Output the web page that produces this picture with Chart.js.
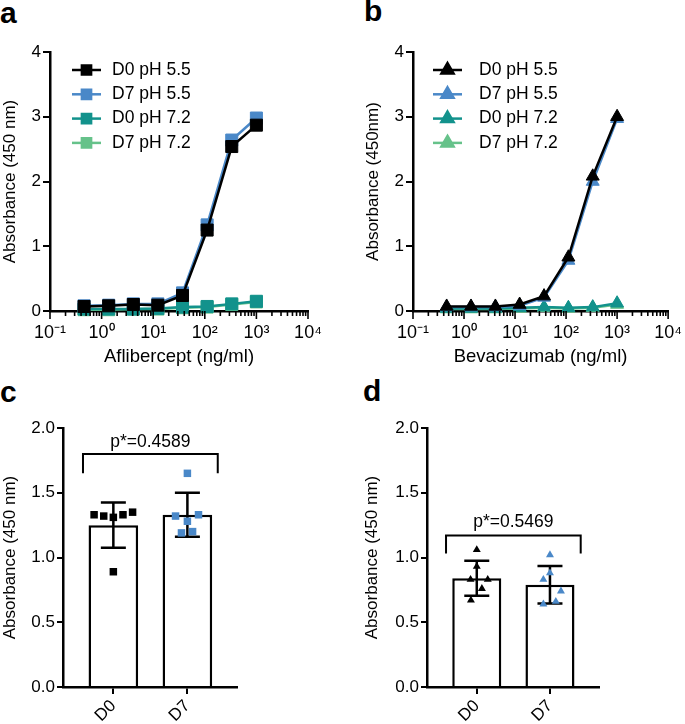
<!DOCTYPE html>
<html>
<head>
<meta charset="utf-8">
<script src="https://cdn.jsdelivr.net/npm/chart.js@4.4.1/dist/chart.umd.min.js"></script>
<style>
  body { margin: 0; background: #fff; }
  #fig { position: relative; width: 685px; height: 724px; font-family: "Liberation Sans", Arial, sans-serif; color: #000; }
  .panel { position: absolute; }
  .letter { position: absolute; font-weight: bold; font-size: 30px; line-height: 1; }
</style>
</head>
<body>
<div id="fig">
  <div class="letter" style="left:0px;top:-2px">a</div>
  <div class="letter" style="left:364px;top:-4px">b</div>
  <div class="letter" style="left:0px;top:377px">c</div>
  <div class="letter" style="left:363px;top:376px">d</div>

  <div class="panel" style="left:0px;top:30px"><canvas id="chartA" width="340" height="342"></canvas></div>
  <div class="panel" style="left:345px;top:30px"><canvas id="chartB" width="340" height="342"></canvas></div>
  <div class="panel" style="left:0px;top:375px"><canvas id="chartC" width="340" height="349"></canvas></div>
  <div class="panel" style="left:345px;top:375px"><canvas id="chartD" width="340" height="349"></canvas></div>
</div>

<script>
// ---- data (panels a, b) ----
const concentrations = [0.457, 1.37, 4.12, 12.3, 37, 111, 333, 1000];
const seriesNames = ["D0 pH 5.5", "D7 pH 5.5", "D0 pH 7.2", "D7 pH 7.2"];
const decadeLabels = ["10⁻¹", "10⁰", "10¹", "10²", "10³", "10⁴"];

const afliD0pH55 = [0.07, 0.08, 0.10, 0.09, 0.24, 1.25, 2.54, 2.87];
const afliD7pH55 = [0.08, 0.09, 0.11, 0.11, 0.28, 1.33, 2.64, 2.98];
const afliD0pH72 = [0.03, 0.03, 0.03, 0.04, 0.06, 0.07, 0.11, 0.15];
const afliD7pH72 = [0.02, 0.02, 0.03, 0.03, 0.05, 0.06, 0.10, 0.14];

const bevaD0pH55 = [0.07, 0.07, 0.07, 0.10, 0.23, 0.83, 2.08, 3.00];
const bevaD7pH55 = [0.06, 0.06, 0.06, 0.08, 0.21, 0.78, 2.00, 2.97];
const bevaD0pH72 = [0.04, 0.04, 0.04, 0.05, 0.06, 0.05, 0.06, 0.12];
const bevaD7pH72 = [0.03, 0.03, 0.03, 0.04, 0.05, 0.04, 0.05, 0.10];

// ---- data (panels c, d) ----
const groups = ["D0", "D7"];

const afliMeans = [1.25, 1.33];
const afliSD = [0.175, 0.17];
const afliD0Points = [1.33, 1.32, 1.31, 1.33, 1.35, 0.89];
const afliD7Points = [1.65, 1.32, 1.28, 1.33, 1.19, 1.20];
const afliD0Jitter = [-0.26, -0.13, 0, 0.13, 0.26, 0];
const afliD7Jitter = [0, -0.16, 0, 0.15, -0.08, 0.07];
const afliPValue = "p*=0.4589";

const bevaMeans = [0.84, 0.79];
const bevaSD = [0.135, 0.145];
const bevaD0Points = [1.06, 0.93, 0.83, 0.83, 0.76, 0.67];
const bevaD7Points = [1.02, 0.88, 0.83, 0.74, 0.64, 0.66];
const bevaD0Jitter = [0, 0, -0.085, 0.15, 0.07, -0.08];
const bevaD7Jitter = [0, 0, -0.09, 0.15, -0.09, 0.08];
const bevaPValue = "p*=0.5469";

// ---- styles ----
const seriesColors = ["#000000", "#4a88c8", "#12928c", "#66c28a"];
const FONT = "'Liberation Sans', Arial, sans-serif";
Chart.defaults.font.family = FONT;
Chart.defaults.font.size = 17;
Chart.defaults.color = "#000";

function isDecade(v) {
  const e = Math.log10(v);
  return Math.abs(e - Math.round(e)) < 1e-6;
}

// log axis: major ticks longer than minor ones
const logTickMarks = {
  id: "logTickMarks",
  afterDraw(chart) {
    const x = chart.scales.x;
    const ctx = chart.ctx;
    ctx.save();
    ctx.strokeStyle = "#000";
    ctx.lineWidth = 1.6;
    x.ticks.forEach((t) => {
      const px = x.getPixelForValue(t.value);
      const len = isDecade(t.value) ? 8 : 5;
      ctx.beginPath();
      ctx.moveTo(px, x.top);
      ctx.lineTo(px, x.top + len);
      ctx.stroke();
    });
    ctx.restore();
  },
};

// legend with a line sample and marker
const lineLegend = {
  id: "lineLegend",
  afterDraw(chart, args, opts) {
    const { ctx, chartArea } = chart;
    ctx.save();
    chart.data.datasets.forEach((ds, i) => {
      const yy = chartArea.top + 18 + i * 24.3;
      const x0 = chartArea.left + opts.lineStart;
      ctx.strokeStyle = ds.borderColor;
      ctx.fillStyle = ds.borderColor;
      ctx.lineWidth = 2.5;
      ctx.beginPath();
      ctx.moveTo(x0, yy);
      ctx.lineTo(x0 + 29, yy);
      ctx.stroke();
      Chart.helpers.drawPoint(ctx, { pointStyle: ds.pointStyle, radius: opts.radius, rotation: 0, borderWidth: 1 }, x0 + 14.5, yy);
      ctx.fillStyle = "#000";
      ctx.font = "17.5px " + FONT;
      ctx.textBaseline = "middle";
      ctx.fillText(ds.label, chartArea.left + opts.textStart, yy);
    });
    ctx.restore();
  },
};

function makeCurveChart(id, values, cfg) {
  const datasets = values.map((vals, i) => ({
    label: seriesNames[i],
    data: concentrations.map((c, j) => ({ x: c, y: vals[j] })),
    borderColor: seriesColors[i],
    backgroundColor: seriesColors[i],
    borderWidth: 2.5,
    pointStyle: cfg.pointStyle,
    pointRadius: cfg.radius,
    pointBorderWidth: 1,
    clip: false,
    tension: 0,
  }));

  new Chart(document.getElementById(id), {
    type: "line",
    data: { datasets },
    options: {
      responsive: false,
      animation: false,
      events: [],
      layout: { padding: cfg.padding },
      plugins: {
        legend: { display: false },
        tooltip: { enabled: false },
        lineLegend: cfg.legend,
      },
      scales: {
        x: {
          type: "logarithmic",
          min: 0.1,
          max: 10000,
          afterBuildTicks: (s) => {
            s.ticks = s.ticks.filter((t) => {
              const m = t.value / Math.pow(10, Math.floor(Math.log10(t.value) + 1e-9));
              return Math.abs(m - Math.round(m)) < 1e-6;
            });
          },
          afterFit: (s) => { s.height = 61; },
          ticks: {
            autoSkip: false,
            maxRotation: 0,
            padding: 3,
            font: { size: 18 },
            callback: (v) => (isDecade(v) ? decadeLabels[Math.round(Math.log10(v)) + 1] : ""),
          },
          grid: { display: false, drawTicks: true, tickLength: 8 },
          border: { display: true, color: "#000", width: 2.5 },
          title: { display: true, text: cfg.xTitle, font: { size: 18.5 }, padding: { top: 0, bottom: 4 } },
        },
        y: {
          min: 0,
          max: 4,
          ticks: { stepSize: 1, padding: 2 },
          afterFit: (s) => { s.width = 50; },
          grid: { drawOnChartArea: false, color: "#000", lineWidth: 2, tickLength: 7 },
          border: { color: "#000", width: 2.5 },
          title: { display: true, text: cfg.yTitle, padding: 0 },
        },
      },
    },
    plugins: [logTickMarks, lineLegend],
  });
}

// error bars drawn after the bars, before the points
const errorBars = {
  id: "errorBars",
  afterDatasetDraw(chart, args, opts) {
    if (args.index !== 0) return;
    const { ctx } = chart;
    const x = chart.scales.x, y = chart.scales.y;
    ctx.save();
    ctx.strokeStyle = "#000";
    ctx.lineWidth = 2.5;
    opts.means.forEach((m, i) => {
      const px = x.getPixelForValue(i);
      const top = y.getPixelForValue(m + opts.sd[i]);
      const bot = y.getPixelForValue(m - opts.sd[i]);
      ctx.beginPath();
      ctx.moveTo(px, top); ctx.lineTo(px, bot);
      ctx.moveTo(px - 12.5, top); ctx.lineTo(px + 12.5, top);
      ctx.moveTo(px - 12.5, bot); ctx.lineTo(px + 12.5, bot);
      ctx.stroke();
    });
    ctx.restore();
  },
};

// significance bracket and p value
const bracket = {
  id: "bracket",
  afterDraw(chart, args, opts) {
    const { ctx } = chart;
    const x = chart.scales.x, y = chart.scales.y;
    const x0 = x.getPixelForValue(opts.from);
    const x1 = x.getPixelForValue(opts.to);
    const yTop = y.getPixelForValue(opts.y);
    const yLeg = y.getPixelForValue(opts.y - opts.drop);
    ctx.save();
    ctx.strokeStyle = "#000";
    ctx.lineWidth = 2;
    ctx.beginPath();
    ctx.moveTo(x0, yLeg);
    ctx.lineTo(x0, yTop);
    ctx.lineTo(x1, yTop);
    ctx.lineTo(x1, yLeg);
    ctx.stroke();
    ctx.fillStyle = "#000";
    ctx.font = "17.5px " + FONT;
    ctx.textAlign = "center";
    ctx.textBaseline = "middle";
    ctx.fillText(opts.label, (x0 + x1) / 2, y.getPixelForValue(opts.textY));
    ctx.restore();
  },
};

function makeBarChart(id, cfg) {
  const d0 = cfg.d0Points.map((v, i) => ({ x: 0 + cfg.d0Jitter[i], y: v }));
  const d7 = cfg.d7Points.map((v, i) => ({ x: 1 + cfg.d7Jitter[i], y: v }));

  new Chart(document.getElementById(id), {
    type: "bar",
    data: {
      datasets: [
        {
          type: "bar",
          data: cfg.means.map((m, i) => ({ x: i, y: m })),
          backgroundColor: "#fff",
          borderColor: "#000",
          borderWidth: 2.5,
          categoryPercentage: 1,
          barPercentage: 0.67,
          order: 2,
        },
        {
          type: "scatter",
          data: d0.concat(d7),
          pointStyle: cfg.pointStyle,
          pointRadius: cfg.radius,
          pointBorderWidth: 0,
          backgroundColor: d0.map(() => "#000").concat(d7.map(() => "#4a88c8")),
          clip: false,
          order: 1,
        },
      ],
    },
    options: {
      responsive: false,
      animation: false,
      events: [],
      layout: { padding: cfg.padding },
      plugins: {
        legend: { display: false },
        tooltip: { enabled: false },
        errorBars: { means: cfg.means, sd: cfg.sd },
        bracket: cfg.bracket,
      },
      scales: {
        x: {
          type: "linear",
          offset: false,
          min: -0.68,
          max: 1.67,
          afterBuildTicks: (s) => { s.ticks = groups.map((g, i) => ({ value: i })); },
          afterFit: (s) => { s.height = 37; },
          ticks: {
            autoSkip: false,
            minRotation: 45,
            maxRotation: 45,
            padding: 2,
            callback: (v) => groups[v],
          },
          grid: { offset: false, drawOnChartArea: false, color: "#000", lineWidth: 2, tickLength: 7 },
          border: { color: "#000", width: 2.5 },
        },
        y: {
          min: 0,
          max: 2,
          ticks: { stepSize: 0.5, padding: 2, callback: (v) => v.toFixed(1) },
          afterFit: (s) => { s.width = cfg.yWidth; },
          grid: { drawOnChartArea: false, color: "#000", lineWidth: 2, tickLength: 6 },
          border: { color: "#000", width: 2.5 },
          title: { display: true, text: "Absorbance (450 nm)", padding: 0 },
        },
      },
    },
    plugins: [errorBars, bracket],
  });
}

makeCurveChart("chartA", [afliD0pH55, afliD7pH55, afliD0pH72, afliD7pH72], {
  pointStyle: "rect",
  radius: 8.5,
  padding: { left: 0, top: 22, right: 32, bottom: 0 },
  xTitle: "Aflibercept (ng/ml)",
  yTitle: "Absorbance (450 nm)",
  legend: { lineStart: 22, textStart: 62, radius: 6.5 },
});

makeCurveChart("chartB", [bevaD0pH55, bevaD7pH55, bevaD0pH72, bevaD7pH72], {
  pointStyle: "triangle",
  radius: 7.5,
  padding: { left: 18, top: 22, right: 13, bottom: 0 },
  xTitle: "Bevacizumab (ng/ml)",
  yTitle: "Absorbance (450nm)",
  legend: { lineStart: 20, textStart: 66, radius: 7 },
});

makeBarChart("chartC", {
  means: afliMeans, sd: afliSD,
  d0Points: afliD0Points, d7Points: afliD7Points,
  d0Jitter: afliD0Jitter, d7Jitter: afliD7Jitter,
  pointStyle: "rect", radius: 5.3,
  yWidth: 63,
  padding: { left: 0, top: 53, right: 103, bottom: 0 },
  bracket: { from: -0.41, to: 1.41, y: 1.80, drop: 0.15, textY: 1.89, label: afliPValue },
});

makeBarChart("chartD", {
  means: bevaMeans, sd: bevaSD,
  d0Points: bevaD0Points, d7Points: bevaD7Points,
  d0Jitter: bevaD0Jitter, d7Jitter: bevaD7Jitter,
  pointStyle: "triangle", radius: 4.6,
  yWidth: 65,
  padding: { left: 17, top: 53, right: 86, bottom: 0 },
  bracket: { from: -0.42, to: 1.42, y: 1.17, drop: 0.14, textY: 1.27, label: bevaPValue },
});
</script>
</body>
</html>
